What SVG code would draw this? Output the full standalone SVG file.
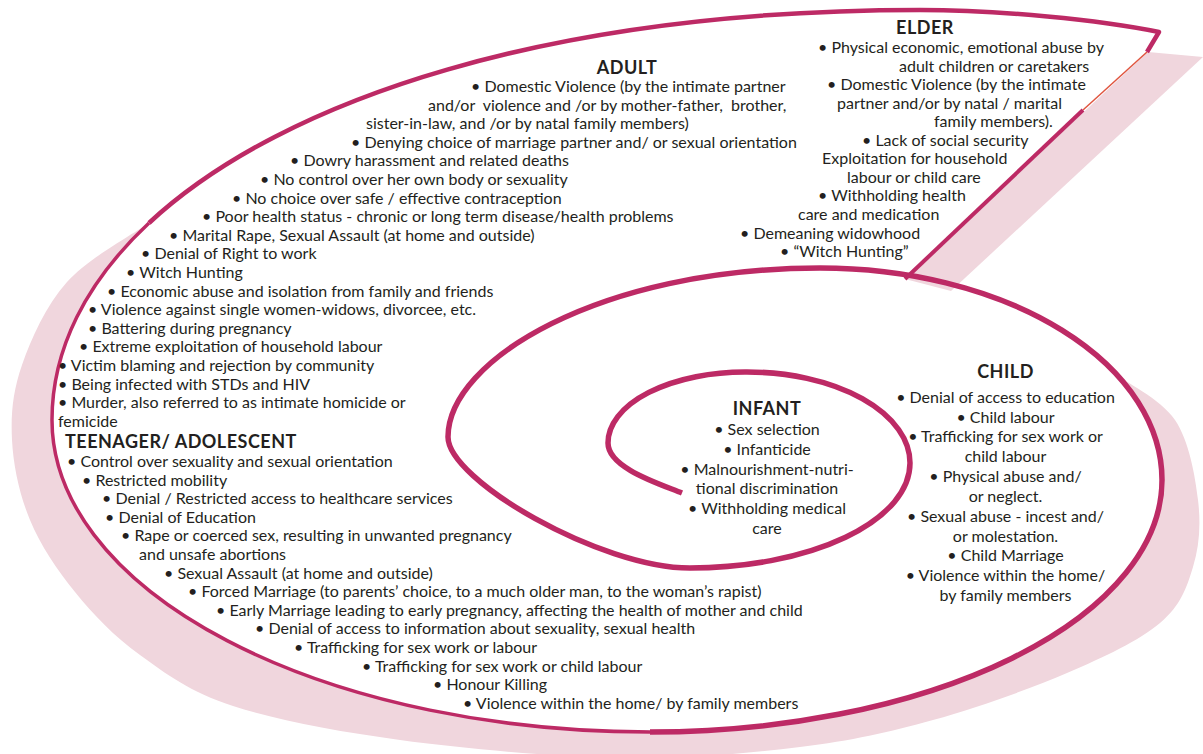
<svg xmlns="http://www.w3.org/2000/svg" width="1203" height="754" viewBox="0 0 1203 754">
<style>
text{font-family:Lato,"Liberation Sans",sans-serif;font-size:16px;fill:#231f20}
.h{font-weight:bold;font-size:18px;letter-spacing:0.5px}
.c{text-anchor:middle}
.band{fill:#f0d6dd;stroke:none}
.sp{fill:none;stroke:#bd2a65;stroke-width:5.5;stroke-linecap:butt;stroke-linejoin:round}
.thin{stroke-width:3.5}
.edge{fill:none;stroke:#e0553f;stroke-width:1.5}
</style>
<rect width="1203" height="754" fill="#ffffff"/>
<g id="spiral">
<path class="band" d="M149,223 C135.3,232.8 88.2,258.3 67,282 C45.8,305.7 31.2,338.7 22,365 C12.8,391.3 10.7,414.2 12,440 C13.3,465.8 19.5,494.7 30,520 C40.5,545.3 56.7,569.5 75,592 C93.3,614.5 113.7,636 140,655 C166.3,674 189.7,691.8 233,706 C276.3,720.2 335.5,731.3 400,740 C464.5,748.7 553.3,756.8 620,758 C686.7,759.2 747.8,753.3 800,747 C852.2,740.7 888.5,732.3 933,720 C977.5,707.7 1029.2,689.2 1067,673 C1104.8,656.8 1139,640.7 1160,623 C1181,605.3 1186.7,587.5 1193,567 C1199.3,546.5 1201,524.5 1198,500 C1195,475.5 1189.2,441.2 1175,420 C1160.8,398.8 1123.3,380.8 1113,373 A342 212 0 0 1 1162 480 A512 252 0 0 1 650 732 A598 312 0 0 1 52 420 C52,349.6 85.6,282.3 149,223 Z"/>
<polygon class="band" points="1148,52 1203,57 951,291 905,279"/>
<path class="sp" d="M682,493 C660,484 608,468 608,443 A137 71 0 0 1 747 372 A163 91 0 0 1 910 463 A220 105 0 0 1 690 568 C600,568 448,480 448,437 C448,360 600,268 820,268 A342 212 0 0 1 1162 480 A512 252 0 0 1 650 732"/>
<path class="sp thin" d="M650,732 A598 312 0 0 1 52 420 C52,349.6 85.6,282.3 149,223"/>
<path class="sp" style="stroke-width:4.5" d="M149,223 C283.6,97.9 552.8,10 920,10 C1000,10 1100,20 1159,32 L1147,52"/>
<path class="edge" d="M1147,52 L1083,110"/>
<path class="sp" style="stroke-width:4" d="M1083,110 L905,279"/>
</g>
<g id="adult">
<text class="h c" x="627" y="74">ADULT</text>
<text x="471" y="92">• Domestic Violence (by the intimate partner</text>
<text x="428" y="110.6" xml:space="preserve">and/or  violence and /or by mother-father,  brother,</text>
<text x="366" y="129.2">sister-in-law, and /or by natal family members)</text>
<text x="351" y="147.8">• Denying choice of marriage partner and/ or sexual orientation</text>
<text x="290" y="166.4">• Dowry harassment and related deaths</text>
<text x="260" y="185">• No control over her own body or sexuality</text>
<text x="232" y="203.6">• No choice over safe / effective contraception</text>
<text x="202" y="222.2">• Poor health status - chronic or long term disease/health problems</text>
<text x="169" y="240.8">• Marital Rape, Sexual Assault (at home and outside)</text>
<text x="141" y="259.4">• Denial of Right to work</text>
<text x="126" y="278">• Witch Hunting</text>
<text x="107" y="296.6">• Economic abuse and isolation from family and friends</text>
<text x="88" y="315.2">• Violence against single women-widows, divorcee, etc.</text>
<text x="88" y="333.8">• Battering during pregnancy</text>
<text x="79" y="352.4">• Extreme exploitation of household labour</text>
<text x="58" y="371">• Victim blaming and rejection by community</text>
<text x="58" y="389.6">• Being infected with STDs and HIV</text>
<text x="58" y="408.2">• Murder, also referred to as intimate homicide or</text>
<text x="58" y="426.8">femicide</text>
</g>
<g id="teenager">
<text class="h" x="65" y="448">TEENAGER/ ADOLESCENT</text>
<text x="67" y="467">• Control over sexuality and sexual orientation</text>
<text x="82" y="485.6">• Restricted mobility</text>
<text x="102" y="504.2">• Denial / Restricted access to healthcare services</text>
<text x="105" y="522.8">• Denial of Education</text>
<text x="121" y="541.4">• Rape or coerced sex, resulting in unwanted pregnancy</text>
<text x="139" y="560">and unsafe abortions</text>
<text x="164" y="578.6">• Sexual Assault (at home and outside)</text>
<text x="188" y="597.2">• Forced Marriage (to parents’ choice, to a much older man, to the woman’s rapist)</text>
<text x="216" y="615.8">• Early Marriage leading to early pregnancy, affecting the health of mother and child</text>
<text x="255" y="634.4">• Denial of access to information about sexuality, sexual health</text>
<text x="294" y="653">• Trafficking for sex work or labour</text>
<text x="362" y="671.6">• Trafficking for sex work or child labour</text>
<text x="433" y="690.2">• Honour Killing</text>
<text x="463" y="708.8">• Violence within the home/ by family members</text>
</g>
<g id="elder">
<text class="h c" x="925" y="34">ELDER</text>
<text x="818" y="53">• Physical economic, emotional abuse by</text>
<text x="899" y="71.6">adult children or caretakers</text>
<text x="827" y="90.1">• Domestic Violence (by the intimate</text>
<text x="837" y="108.7">partner and/or by natal / marital</text>
<text x="934" y="127.2">family members).</text>
<text x="862" y="145.8">• Lack of social security</text>
<text x="822" y="164.3">Exploitation for household</text>
<text x="847" y="182.9">labour or child care</text>
<text x="818" y="201.4">• Withholding health</text>
<text x="798" y="220">care and medication</text>
<text x="740" y="238.5">• Demeaning widowhood</text>
<text x="780" y="257.1">• “Witch Hunting”</text>
</g>
<g id="child">
<text class="h c" x="1005.5" y="378">CHILD</text>
<text class="c" x="1005.5" y="402.7">• Denial of access to education</text>
<text class="c" x="1005.5" y="422.5">• Child labour</text>
<text class="c" x="1005.5" y="442.4">• Trafficking for sex work or</text>
<text class="c" x="1005.5" y="462.2">child labour</text>
<text class="c" x="1005.5" y="482">• Physical abuse and/</text>
<text class="c" x="1005.5" y="501.9">or neglect.</text>
<text class="c" x="1005.5" y="521.7">• Sexual abuse - incest and/</text>
<text class="c" x="1005.5" y="541.5">or molestation.</text>
<text class="c" x="1005.5" y="561.3">• Child Marriage</text>
<text class="c" x="1005.5" y="581.2">• Violence within the home/</text>
<text class="c" x="1005.5" y="601">by family members</text>
</g>
<g id="infant">
<text class="h c" x="767" y="415">INFANT</text>
<text class="c" x="767" y="435">• Sex selection</text>
<text class="c" x="767" y="454.8">• Infanticide</text>
<text class="c" x="767" y="474.6">• Malnourishment-nutri-</text>
<text class="c" x="767" y="494.4">tional discrimination</text>
<text class="c" x="767" y="514.2">• Withholding medical</text>
<text class="c" x="767" y="534">care</text>
</g>
</svg>
